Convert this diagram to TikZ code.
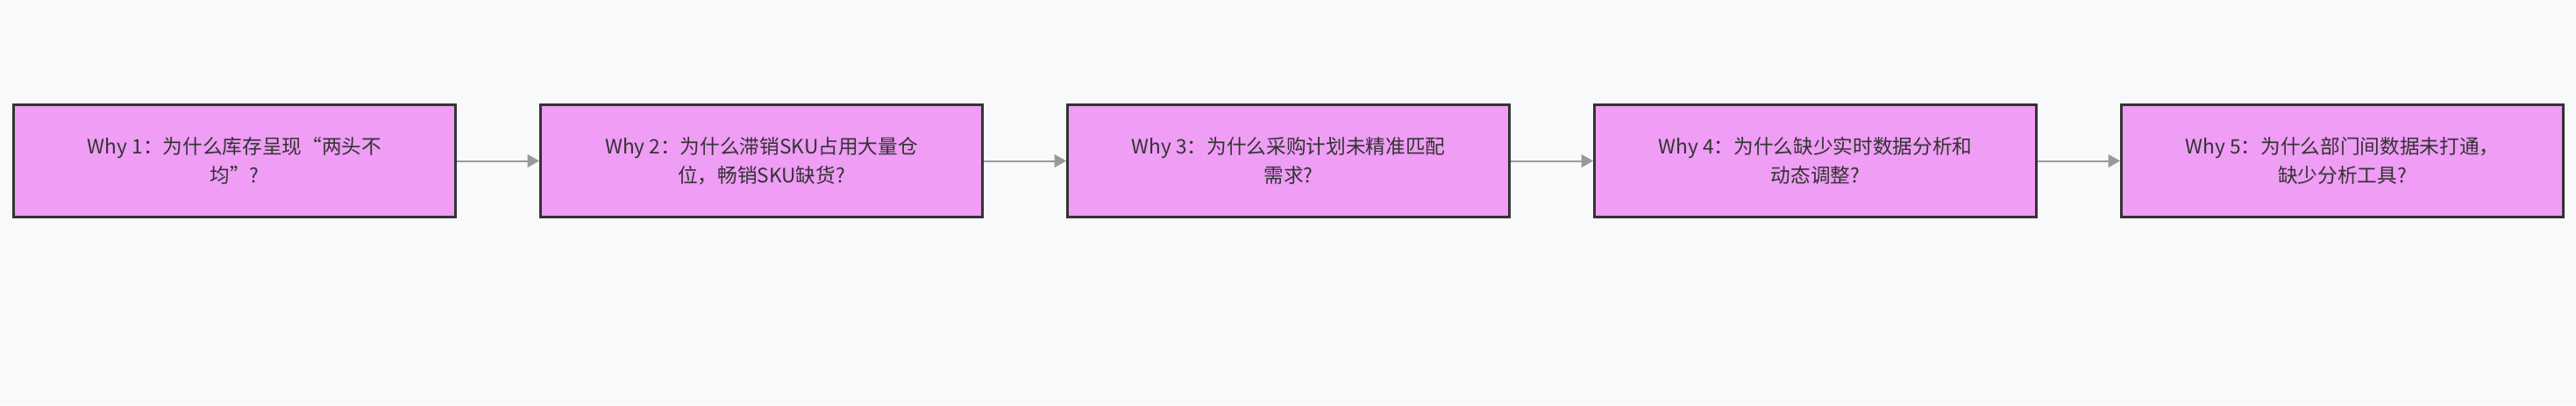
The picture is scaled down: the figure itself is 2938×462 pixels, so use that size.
\documentclass[tikz,border=0pt]{standalone}
\usepackage{fontspec}
\setmainfont{Noto Sans CJK SC}
\usetikzlibrary{arrows.meta}
\definecolor{bg}{HTML}{F8F9FA}
\definecolor{boxfill}{HTML}{EF9DF5}
\definecolor{boxline}{HTML}{333333}
\definecolor{txt}{HTML}{333333}
\definecolor{edge}{HTML}{999999}
\begin{document}
\begin{tikzpicture}[x=0.75pt,y=-0.75pt,
  whybox/.style={draw=boxline,fill=boxfill,line width=2.25pt,minimum width=378pt,minimum height=96pt,inner sep=0pt,align=center,text=txt,font=\fontsize{17pt}{24.5pt}\selectfont},
  flow/.style={draw=edge,line width=1.5pt,-{Triangle[length=10pt,width=11pt,fill=edge]}}]
\fill[bg] (0,0) rectangle (2938,462);
\useasboundingbox (0,0) rectangle (2938,462);
\node[whybox] (w1) at (267.5,183.5) {Why 1：为什么库存呈现“两头不\\均”?};
\node[whybox] (w2) at (868.5,183.5) {Why 2：为什么滞销SKU占用大量仓\\位，畅销SKU缺货?};
\node[whybox] (w3) at (1469.5,183.5) {Why 3：为什么采购计划未精准匹配\\需求?};
\node[whybox] (w4) at (2070.5,183.5) {Why 4：为什么缺少实时数据分析和\\动态调整?};
\node[whybox] (w5) at (2671.5,183.5) {Why 5：为什么部门间数据未打通，\\缺少分析工具?};
\draw[flow] (w1) -- (w2);
\draw[flow] (w2) -- (w3);
\draw[flow] (w3) -- (w4);
\draw[flow] (w4) -- (w5);
\end{tikzpicture}
\end{document}
